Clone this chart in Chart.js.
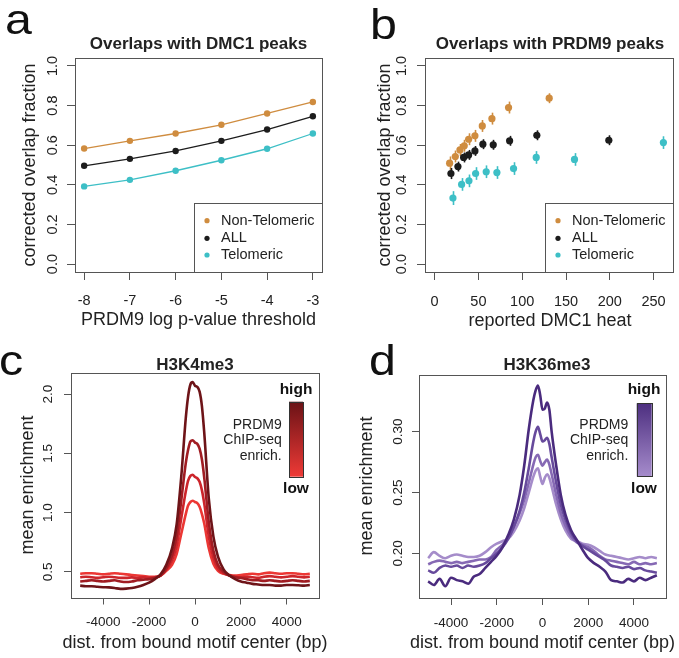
<!DOCTYPE html>
<html><head><meta charset="utf-8">
<script src="https://cdn.jsdelivr.net/npm/chart.js@4.4.0/dist/chart.umd.min.js"></script>
<style>
html,body{margin:0;padding:0;background:#fff;}
#wrap{position:relative;width:679px;height:658px;overflow:hidden;background:#fff;}
canvas{position:absolute;}
</style></head><body>
<div id="wrap">
<canvas id="ca" style="left:0px;top:0px;width:340px;height:330px" width="340" height="330"></canvas>
<canvas id="cb" style="left:340px;top:0px;width:339px;height:330px" width="339" height="330"></canvas>
<canvas id="cc" style="left:0px;top:330px;width:340px;height:328px" width="340" height="328"></canvas>
<canvas id="cd" style="left:340px;top:330px;width:339px;height:328px" width="339" height="328"></canvas>
</div>
<script>
// ---------- data ----------
const thresholds = [-8, -7, -6, -5, -4, -3];
const aNonTel = [0.583, 0.622, 0.659, 0.703, 0.760, 0.818];
const aAll    = [0.496, 0.531, 0.571, 0.622, 0.679, 0.746];
const aTel    = [0.392, 0.425, 0.471, 0.524, 0.582, 0.659];

const bNonTelX = [17.1, 23.6, 28.9, 33.8, 38.8, 46.0, 54.4, 65.4, 84.4, 130.8];
const bNonTelY = [0.509, 0.543, 0.576, 0.597, 0.630, 0.647, 0.697, 0.734, 0.790, 0.837];
const bNonTelE = [0.034, 0.030, 0.030, 0.030, 0.030, 0.030, 0.030, 0.030, 0.030, 0.025];
const bAllX = [18.6, 26.6, 33.1, 38.8, 46.0, 55.1, 66.9, 85.6, 116.7, 198.9];
const bAllY = [0.457, 0.492, 0.538, 0.551, 0.571, 0.605, 0.602, 0.622, 0.650, 0.625];
const bAllE = [0.028, 0.025, 0.025, 0.025, 0.025, 0.025, 0.025, 0.025, 0.025, 0.025];
const bTelX = [20.9, 30.8, 39.2, 46.8, 58.9, 71.1, 90.1, 116.0, 159.7, 261.2];
const bTelY = [0.333, 0.402, 0.420, 0.457, 0.466, 0.462, 0.482, 0.538, 0.528, 0.613];
const bTelE = [0.035, 0.032, 0.032, 0.032, 0.032, 0.032, 0.032, 0.032, 0.032, 0.032];

const seriesNames = ['Non-Telomeric', 'ALL', 'Telomeric'];

const distBp = [-5000,-4750,-4500,-4250,-4000,-3750,-3500,-3250,-3000,-2750,-2500,-2250,-2000,-1750,-1500,-1250,-1000,-800,-600,-400,-300,-200,-100,0,100,200,300,400,600,800,1000,1250,1500,1750,2000,2250,2500,2750,3000,3250,3500,3750,4000,4250,4500,4750,5000];

const h3k4_1 = [0.385,0.38,0.38,0.375,0.372,0.37,0.365,0.358,0.36,0.365,0.375,0.39,0.41,0.44,0.48,0.56,0.70,0.90,1.30,1.80,1.98,2.08,2.10,2.07,2.06,2.02,1.90,1.68,1.12,0.80,0.63,0.52,0.47,0.44,0.42,0.41,0.40,0.395,0.39,0.39,0.385,0.385,0.39,0.39,0.388,0.385,0.39];
const h3k4_2 = [0.42,0.425,0.43,0.425,0.42,0.425,0.43,0.42,0.415,0.42,0.43,0.435,0.44,0.45,0.47,0.53,0.64,0.80,1.10,1.42,1.53,1.60,1.61,1.59,1.58,1.54,1.45,1.30,0.92,0.68,0.56,0.50,0.47,0.455,0.45,0.44,0.43,0.43,0.425,0.43,0.425,0.42,0.425,0.43,0.425,0.42,0.425];
const h3k4_3 = [0.455,0.46,0.455,0.45,0.455,0.46,0.455,0.45,0.45,0.455,0.45,0.455,0.45,0.455,0.47,0.52,0.60,0.72,0.95,1.18,1.27,1.31,1.32,1.30,1.29,1.26,1.19,1.08,0.80,0.62,0.53,0.49,0.47,0.46,0.455,0.46,0.455,0.45,0.46,0.465,0.46,0.455,0.46,0.465,0.46,0.455,0.46];
const h3k4_4 = [0.485,0.49,0.49,0.485,0.48,0.485,0.49,0.485,0.48,0.475,0.47,0.465,0.46,0.46,0.47,0.51,0.56,0.65,0.82,0.99,1.06,1.09,1.10,1.09,1.08,1.05,0.99,0.91,0.70,0.57,0.51,0.485,0.475,0.47,0.475,0.48,0.485,0.48,0.49,0.495,0.49,0.485,0.49,0.49,0.485,0.48,0.485];

const h3k36_1 = [0.177,0.174,0.179,0.173,0.180,0.178,0.177,0.175,0.181,0.183,0.188,0.193,0.198,0.205,0.215,0.228,0.248,0.272,0.302,0.326,0.334,0.338,0.330,0.318,0.319,0.324,0.318,0.300,0.272,0.248,0.232,0.219,0.211,0.203,0.196,0.192,0.189,0.185,0.178,0.177,0.176,0.179,0.177,0.180,0.178,0.180,0.182];
const h3k36_2 = [0.186,0.184,0.188,0.190,0.189,0.190,0.188,0.190,0.189,0.190,0.192,0.196,0.200,0.205,0.212,0.222,0.235,0.250,0.270,0.292,0.300,0.304,0.298,0.292,0.293,0.295,0.290,0.279,0.258,0.240,0.228,0.217,0.210,0.206,0.203,0.200,0.197,0.194,0.190,0.189,0.188,0.189,0.187,0.188,0.186,0.185,0.184];
const h3k36_3 = [0.191,0.193,0.194,0.193,0.192,0.193,0.192,0.193,0.194,0.195,0.195,0.197,0.203,0.207,0.213,0.222,0.233,0.244,0.258,0.273,0.279,0.281,0.276,0.272,0.275,0.277,0.273,0.265,0.248,0.233,0.223,0.214,0.209,0.207,0.205,0.202,0.198,0.195,0.194,0.193,0.192,0.191,0.193,0.191,0.192,0.191,0.192];
const h3k36_4 = [0.196,0.201,0.198,0.196,0.198,0.199,0.198,0.197,0.197,0.198,0.201,0.205,0.208,0.210,0.212,0.218,0.227,0.237,0.250,0.263,0.268,0.270,0.263,0.257,0.262,0.265,0.262,0.255,0.240,0.228,0.219,0.212,0.210,0.208,0.207,0.205,0.202,0.199,0.198,0.197,0.196,0.195,0.196,0.197,0.196,0.197,0.196];

const aXTicks = [-8, -7, -6, -5, -4, -3];
const abYTicks = [0, 0.2, 0.4, 0.6, 0.8, 1.0];
const bXTicks = [0, 50, 100, 150, 200, 250];
const cdXTicks = [-4000, -2000, 0, 2000, 4000];
const cYTicks = [0.5, 1.0, 1.5, 2.0];
const dYTicks = [0.20, 0.25, 0.30];

// ---------- styling ----------
const FONT = '"Liberation Sans", Arial, Helvetica, sans-serif';
const AXC = '#555555';
const TXT = '#222222';
const ORANGE = '#CF8C3F', BLACK = '#1C1C1C', CYAN = '#3DBFC6';
const REDS = ['#6E1418', '#A11C22', '#CC252B', '#EC3734'];
const PURPLES = ['#4A2B7E', '#674A9C', '#8669B4', '#A58CCA'];

function pts(xs, ys) { return xs.map((x, i) => ({ x: x, y: ys[i] })); }

function drawText(ctx, s, x, y, size, o) {
  o = o || {};
  ctx.save();
  ctx.font = (o.bold ? 'bold ' : '') + size + 'px ' + FONT;
  ctx.fillStyle = o.color || TXT;
  ctx.textAlign = o.align || 'center';
  ctx.textBaseline = o.baseline || 'middle';
  ctx.translate(x, y);
  if (o.rot) ctx.rotate(o.rot);
  if (o.sx) ctx.scale(o.sx, 1);
  ctx.fillText(s, 0, 0);
  ctx.restore();
}

function makePanel(id, g) {
  const canvas = document.getElementById(id);
  const W = canvas.width, H = canvas.height;
  const YW = 10, XH = 40;
  const deco = {
    id: 'deco_' + id,
    beforeDatasetsDraw(chart) {
      if (g.beforeData) g.beforeData(chart);
    },
    afterDraw(chart) {
      const ctx = chart.ctx, ca = chart.chartArea;
      ctx.save();
      ctx.strokeStyle = AXC; ctx.lineWidth = 1;
      ctx.strokeRect(Math.round(ca.left) + 0.5, Math.round(ca.top) + 0.5,
        Math.round(ca.right - ca.left), Math.round(ca.bottom - ca.top));
      ctx.restore();
      const ys = chart.scales.y;
      g.yTicks.forEach(v => {
        drawText(ctx, g.yFmt(v), g.yLabX, ys.getPixelForValue(v), g.tickSize, { rot: -Math.PI / 2 });
      });
      drawText(ctx, g.title, g.titlePos[0], g.titlePos[1], 17, { bold: true });
      drawText(ctx, g.xTitle, g.xTitlePos[0], g.xTitlePos[1], 18);
      drawText(ctx, g.yTitle, g.yTitlePos[0], g.yTitlePos[1], 18, { rot: -Math.PI / 2 });
      drawText(ctx, g.letter, g.letterPos[0], g.letterPos[1], 42, { align: 'left', baseline: 'alphabetic', sx: 1.15, color: '#111' });
      if (g.after) g.after(chart);
    }
  };
  return new Chart(canvas, {
    type: 'scatter',
    data: { datasets: g.datasets },
    options: {
      responsive: false, animation: false, events: [],
      layout: { padding: { left: g.L - YW, right: W - g.R, top: g.T, bottom: H - g.B - XH } },
      plugins: { legend: { display: false }, tooltip: { enabled: false }, title: { display: false } },
      scales: {
        x: {
          type: 'linear', position: 'bottom', min: g.xMin, max: g.xMax,
          afterBuildTicks: s => { s.ticks = g.xTicks.map(v => ({ value: v })); },
          afterFit: s => { s.height = XH; },
          grid: { drawOnChartArea: false, drawTicks: true, tickLength: g.tickLen, color: AXC, lineWidth: 1 },
          border: { display: false },
          ticks: { font: { family: FONT, size: g.tickSize }, color: TXT, padding: g.xPad, maxRotation: 0, minRotation: 0, autoSkip: false,
                   callback: v => String(v) }
        },
        y: {
          type: 'linear', position: 'left', min: g.yMin, max: g.yMax,
          afterBuildTicks: s => { s.ticks = g.yTicks.map(v => ({ value: v })); },
          afterFit: s => { s.width = YW; },
          grid: { drawOnChartArea: false, drawTicks: true, tickLength: g.tickLen, color: AXC, lineWidth: 1 },
          border: { display: false },
          ticks: { display: false }
        }
      }
    },
    plugins: [deco]
  });
}

function drawLegend(chart, box, dotX, textX, rowsY) {
  const ctx = chart.ctx, ca = chart.chartArea;
  ctx.save();
  ctx.fillStyle = '#fff';
  ctx.fillRect(box, 203.5, ca.right - box, ca.bottom - 203.5);
  ctx.strokeStyle = AXC; ctx.lineWidth = 1;
  ctx.strokeRect(Math.round(box) + 0.5, 203.5, Math.round(ca.right) - Math.round(box), Math.round(ca.bottom) - 203);
  const cols = [ORANGE, BLACK, CYAN];
  seriesNames.forEach((n, i) => {
    ctx.beginPath(); ctx.fillStyle = cols[i];
    ctx.arc(dotX, rowsY[i], 2.6, 0, Math.PI * 2); ctx.fill();
    drawText(ctx, n, textX, rowsY[i], 14.5, { align: 'left' });
  });
  ctx.restore();
}

function drawColorBar(chart, x0, x1, y0, y1, top, bot, txtRight, hx) {
  const ctx = chart.ctx;
  ctx.save();
  const gr = ctx.createLinearGradient(0, y0, 0, y1);
  gr.addColorStop(0, top); gr.addColorStop(1, bot);
  ctx.fillStyle = gr; ctx.fillRect(x0, y0, x1 - x0, y1 - y0);
  ctx.strokeStyle = '#333'; ctx.lineWidth = 1;
  ctx.strokeRect(Math.round(x0) + 0.5, Math.round(y0) + 0.5, Math.round(x1 - x0), Math.round(y1 - y0));
  ctx.restore();
  drawText(ctx, 'high', hx, 60, 15.5, { bold: true, color: '#111' });
  drawText(ctx, 'low', hx, 159, 15.5, { bold: true, color: '#111' });
  drawText(ctx, 'PRDM9', txtRight, 95, 14, { align: 'right' });
  drawText(ctx, 'ChIP-seq', txtRight, 110.5, 14, { align: 'right' });
  drawText(ctx, 'enrich.', txtRight, 126.5, 14, { align: 'right' });
}

function errBars(chart, sets) {
  const ctx = chart.ctx, xs = chart.scales.x, ys = chart.scales.y;
  ctx.save(); ctx.lineWidth = 1.6;
  sets.forEach(s => {
    ctx.strokeStyle = s.color;
    s.x.forEach((x, i) => {
      const px = Math.round(xs.getPixelForValue(x)) + 0.5;
      ctx.beginPath();
      ctx.moveTo(px, ys.getPixelForValue(s.y[i] - s.e[i]));
      ctx.lineTo(px, ys.getPixelForValue(s.y[i] + s.e[i]));
      ctx.stroke();
    });
  });
  ctx.restore();
}

const fmt1 = v => v.toFixed(1);
const fmt2 = v => v.toFixed(2);

function lineDs(data, color, w, r) {
  return { data: data, showLine: true, borderColor: color, backgroundColor: color, borderWidth: w,
           pointRadius: r, pointBorderWidth: 0, pointBackgroundColor: color, tension: 0 };
}
function ptDs(data, color, r) {
  return { data: data, showLine: false, backgroundColor: color, pointRadius: r, pointBorderWidth: 0, pointBackgroundColor: color };
}
function curveDs(ys, color) {
  return { data: pts(distBp, ys), showLine: true, borderColor: color, borderWidth: 2.6, pointRadius: 0,
           cubicInterpolationMode: 'monotone', fill: false };
}

// Panel a
makePanel('ca', {
  L: 75, R: 322, T: 58, B: 272, xMin: -8.2, xMax: -2.8, yMin: -0.04, yMax: 1.04,
  xTicks: aXTicks, yTicks: abYTicks, yFmt: fmt1, tickSize: 14.5, tickLen: 8, xPad: 12,
  yLabX: 53, title: 'Overlaps with DMC1 peaks', titlePos: [198.5, 44],
  xTitle: 'PRDM9 log p-value threshold', xTitlePos: [198.5, 320],
  yTitle: 'corrected overlap fraction', yTitlePos: [30, 165],
  letter: 'a', letterPos: [5, 34],
  datasets: [
    lineDs(pts(thresholds, aNonTel), ORANGE, 1.3, 3.2),
    lineDs(pts(thresholds, aAll), BLACK, 1.3, 3.2),
    lineDs(pts(thresholds, aTel), CYAN, 1.3, 3.2)
  ],
  after: ch => drawLegend(ch, 194, 207, 221, [220.7, 238.3, 255])
});

// Panel b
makePanel('cb', {
  L: 85, R: 336, T: 58, B: 272, xMin: -11, xMax: 272.5, yMin: -0.04, yMax: 1.04,
  xTicks: bXTicks, yTicks: abYTicks, yFmt: fmt1, tickSize: 14.5, tickLen: 8, xPad: 13,
  yLabX: 62, title: 'Overlaps with PRDM9 peaks', titlePos: [210, 44],
  xTitle: 'reported DMC1 heat', xTitlePos: [210, 321],
  yTitle: 'corrected overlap fraction', yTitlePos: [45, 165],
  letter: 'b', letterPos: [30, 38.5],
  datasets: [
    ptDs(pts(bNonTelX, bNonTelY), ORANGE, 3.6),
    ptDs(pts(bAllX, bAllY), BLACK, 3.6),
    ptDs(pts(bTelX, bTelY), CYAN, 3.6)
  ],
  beforeData: ch => errBars(ch, [
    { x: bNonTelX, y: bNonTelY, e: bNonTelE, color: ORANGE },
    { x: bAllX, y: bAllY, e: bAllE, color: BLACK },
    { x: bTelX, y: bTelY, e: bTelE, color: CYAN }
  ]),
  after: ch => drawLegend(ch, 204.7, 218, 232, [220.7, 238.3, 255])
});

// Panel c
makePanel('cc', {
  L: 71, R: 319, T: 43, B: 267.5, xMin: -5400, xMax: 5400, yMin: 0.285, yMax: 2.177,
  xTicks: cdXTicks, yTicks: cYTicks, yFmt: fmt1, tickSize: 13.5, tickLen: 7, xPad: 10,
  yLabX: 48, title: 'H3K4me3', titlePos: [195, 35],
  xTitle: 'dist. from bound motif center (bp)', xTitlePos: [195, 313],
  yTitle: 'mean enrichment', yTitlePos: [28, 155],
  letter: 'c', letterPos: [-1, 45],
  datasets: [
    curveDs(h3k4_1, REDS[0]), curveDs(h3k4_2, REDS[1]), curveDs(h3k4_3, REDS[2]), curveDs(h3k4_4, REDS[3])
  ],
  after: ch => drawColorBar(ch, 289, 303, 71.7, 146.7, '#6A1216', '#EE3A36', 281.7, 296)
});

// Panel d
makePanel('cd', {
  L: 79, R: 326, T: 45, B: 268, xMin: -5400, xMax: 5400, yMin: 0.1633, yMax: 0.3466,
  xTicks: cdXTicks, yTicks: dYTicks, yFmt: fmt2, tickSize: 13.5, tickLen: 7, xPad: 10,
  yLabX: 58, title: 'H3K36me3', titlePos: [207, 35.7],
  xTitle: 'dist. from bound motif center (bp)', xTitlePos: [202.5, 313],
  yTitle: 'mean enrichment', yTitlePos: [27, 156],
  letter: 'd', letterPos: [29, 45],
  datasets: [
    curveDs(h3k36_1, PURPLES[0]), curveDs(h3k36_2, PURPLES[1]), curveDs(h3k36_3, PURPLES[2]), curveDs(h3k36_4, PURPLES[3])
  ],
  after: ch => drawColorBar(ch, 296.7, 311.7, 73.3, 146.7, '#4D2F80', '#A68CCC', 288.3, 304)
});
</script>
</body></html>
